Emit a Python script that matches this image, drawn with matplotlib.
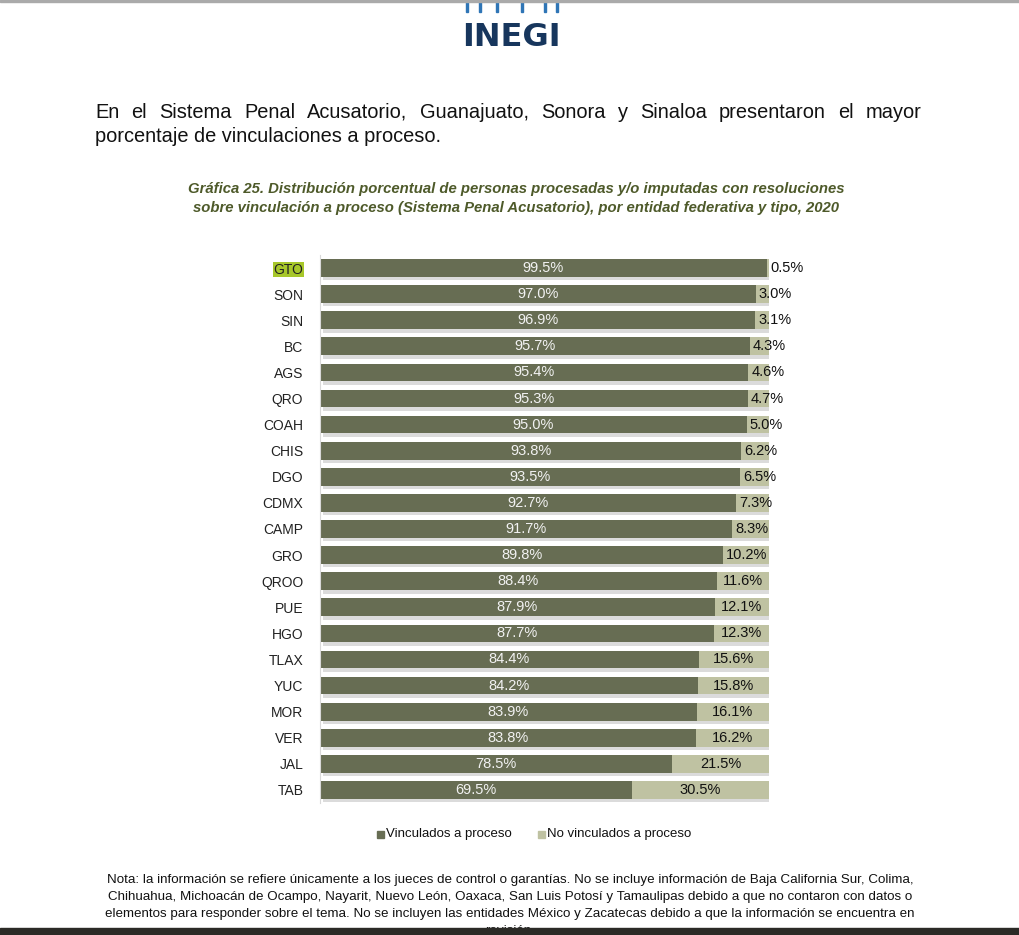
import matplotlib
matplotlib.use("Agg")
import matplotlib.pyplot as plt
import matplotlib.patheffects as pe
from matplotlib.patches import Rectangle
from matplotlib import font_manager as fm

cats = ["GTO", "SON", "SIN", "BC", "AGS", "QRO", "COAH", "CHIS", "DGO", "CDMX", "CAMP",
        "GRO", "QROO", "PUE", "HGO", "TLAX", "YUC", "MOR", "VER", "JAL", "TAB"]
vinc = [99.5, 97.0, 96.9, 95.7, 95.4, 95.3, 95.0, 93.8, 93.5, 92.7, 91.7,
        89.8, 88.4, 87.9, 87.7, 84.4, 84.2, 83.9, 83.8, 78.5, 69.5]
novinc = [0.5, 3.0, 3.1, 4.3, 4.6, 4.7, 5.0, 6.2, 6.5, 7.3, 8.3,
          10.2, 11.6, 12.1, 12.3, 15.6, 15.8, 16.1, 16.2, 21.5, 30.5]
series_names = ["Vinculados a proceso", "No vinculados a proceso"]

header_line1 = "En el Sistema Penal Acusatorio, Guanajuato, Sonora y Sinaloa presentaron el mayor"
header_line2 = "porcentaje de vinculaciones a proceso."
title1 = "Gráfica 25. Distribución porcentual de personas procesadas y/o imputadas con resoluciones"
title2 = "sobre vinculación a proceso (Sistema Penal Acusatorio), por entidad federativa y tipo, 2020"
note_lines = [
    "Nota: la información se refiere únicamente a los jueces de control o garantías. No se incluye información de Baja California Sur, Colima,",
    "Chihuahua, Michoacán de Ocampo, Nayarit, Nuevo León, Oaxaca, San Luis Potosí y Tamaulipas debido a que no contaron con datos o",
    "elementos para responder sobre el tema. No se incluyen las entidades México y Zacatecas debido a que la información se encuentra en",
    "revisión.",
]

W, H = 1020, 935
DARK = "#676D53"
LIGHT = "#BFC2A2"

avail = {f.name for f in fm.fontManager.ttflist}
narrow = "Liberation Sans Narrow" if "Liberation Sans Narrow" in avail else "Liberation Sans"
sans = "Liberation Sans"
plt.rcParams["font.family"] = [sans, "DejaVu Sans"]

fig = plt.figure(figsize=(W / 100, H / 100), dpi=100)
fig.patch.set_facecolor("white")

def fx(px):
    return px / W

def fy(py):
    return 1 - py / H

# axes
left, right, top, bottom = 320, 769, 255, 803
ax = fig.add_axes([fx(left), fy(bottom), fx(right - left), (bottom - top) / H])
ypos = list(range(len(cats)))
shadow = [pe.SimplePatchShadow(offset=(2.5, -2.5), shadow_rgbFace="#999999", alpha=0.35), pe.Normal()]
b1 = ax.barh(ypos, vinc, height=0.68, color=DARK, label=series_names[0])
b2 = ax.barh(ypos, novinc, left=vinc, height=0.68, color=LIGHT, label=series_names[1])
for b in list(b1) + list(b2):
    b.set_path_effects(shadow)
ax.set_xlim(0, 100)
ax.set_ylim(len(cats) - 0.5, -0.5)
ax.set_yticks(ypos)
ax.set_yticklabels(cats, fontsize=10, color="#222222")
ax.tick_params(axis="y", length=0, pad=12)
ax.set_xticks([])
for s in ["top", "right", "bottom"]:
    ax.spines[s].set_visible(False)
ax.spines["left"].set_color("#D9D9D9")
ax.spines["left"].set_linewidth(0.8)
ax.get_yticklabels()[0].set_bbox(dict(facecolor="#A7C72A", edgecolor="none", pad=0.5))

for i, (v, n) in enumerate(zip(vinc, novinc)):
    ax.text(v / 2, i, f"{v:.1f}%", ha="center", va="center", fontsize=10.5, color="#F2F2F2")
    cx = max(v + n / 2, v + 4.4)
    ax.text(cx, i, f"{n:.1f}%", ha="center", va="center", fontsize=10.5, color="#111111")

# legend
fig.patches.append(Rectangle((fx(377), fy(838)), 7 / W, 7 / H, transform=fig.transFigure, color=DARK))
fig.text(fx(386), fy(834), series_names[0], fontsize=9.5, va="center", ha="left", color="#111111")
fig.patches.append(Rectangle((fx(538), fy(838)), 7 / W, 7 / H, transform=fig.transFigure, color=LIGHT))
fig.text(fx(547), fy(834), series_names[1], fontsize=9.5, va="center", ha="left", color="#111111")

# title
tcol = "#4E5A2A"
fig.text(fx(516), fy(189), title1, fontsize=10.75, fontweight="bold", fontstyle="italic",
         family=[narrow, "DejaVu Sans"], color=tcol, ha="center", va="center")
fig.text(fx(516), fy(208), title2, fontsize=10.75, fontweight="bold", fontstyle="italic",
         family=[narrow, "DejaVu Sans"], color=tcol, ha="center", va="center")

# header (justified first line)
renderer = fig.canvas.get_renderer()
words = header_line1.split(" ")
hs = 14.4
x0, x1 = 95, 922
objs = [fig.text(0, fy(112), w, fontsize=hs, color="#111111", va="center", ha="left") for w in words]
widths = [o.get_window_extent(renderer).width for o in objs]
gap = (x1 - x0 - sum(widths)) / (len(words) - 1)
xc = x0
for o, wd in zip(objs, widths):
    o.set_x(fx(xc))
    xc += wd + gap
fig.text(fx(95), fy(137), header_line2, fontsize=hs, color="#111111", va="center", ha="left")

# note
for k, line in enumerate(note_lines):
    fig.text(fx(510), fy(880 + 17 * k), line, fontsize=9.6, family=[narrow, "DejaVu Sans"],
             color="#111111", ha="center", va="center")

# logo
fig.text(fx(511), fy(37), "INEGI", fontsize=23, fontweight="bold", color="#17365D",
         ha="center", va="center", family=["DejaVu Sans"])
for xx in [466, 479, 496, 521, 544, 556]:
    fig.patches.append(Rectangle((fx(xx), fy(12)), 2 / W, 12 / H, transform=fig.transFigure, color="#2E75B6"))

# top border and bottom dark strip
fig.patches.append(Rectangle((0, fy(2)), 1, 2 / H, transform=fig.transFigure, color="#AAAAAA"))
fig.patches.append(Rectangle((0, 0), 1, 7 / H, transform=fig.transFigure, color="#2B2A26", zorder=10))

fig.savefig("out.png", dpi=100, facecolor="white")
